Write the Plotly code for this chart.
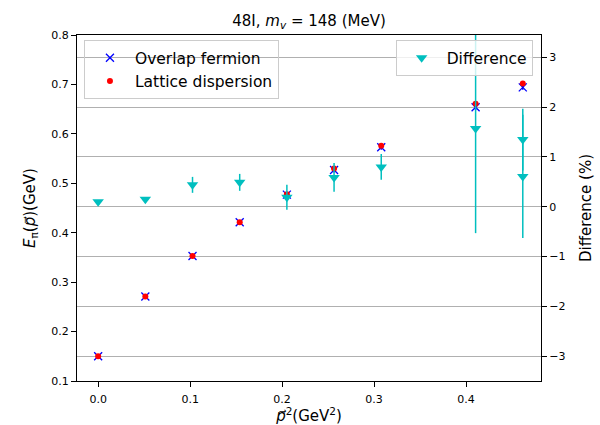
import plotly.graph_objects as go

# ---- data ----
p2 = [0.0, 0.0513, 0.1026, 0.1539, 0.2052, 0.2565, 0.3078, 0.4104, 0.4617]
E_overlap = [0.150, 0.271, 0.353, 0.421, 0.477, 0.527, 0.573, 0.654, 0.694]
E_overlap_err = [0.001, 0.002, 0.002, 0.003, 0.005, 0.005, 0.005, 0.006, 0.005]
E_lattice = [0.150, 0.271, 0.353, 0.421, 0.478, 0.530, 0.576, 0.661, 0.702]
E_lattice_err = [0.001, 0.002, 0.002, 0.002, 0.003, 0.003, 0.004, 0.004, 0.004]

p2_diff = [0.0, 0.0513, 0.1026, 0.1539, 0.2052, 0.2565, 0.3078, 0.4104, 0.4617, 0.4617]
diff = [0.10, 0.15, 0.44, 0.49, 0.19, 0.59, 0.80, 1.57, 1.35, 0.61]
diff_err = [0.02, 0.03, 0.16, 0.17, 0.25, 0.29, 0.26, 2.10, 0.62, 1.24]

title_text = "48I, <i>m</i><sub><i>v</i></sub> = 148 (MeV)"
xlabel = "<i>p\u20d7</i><sup>2</sup>(GeV<sup>2</sup>)"
ylabel = "<i>E</i><sub>\u03c0</sub>(<i>p\u20d7</i>)(GeV)"
y2label = "Difference (%)"

FONT = "DejaVu Sans"
BLUE = "#0000ff"
RED = "#ff0000"
CYAN = "#00bfbf"

fig = go.Figure()

fig.add_trace(go.Scatter(
    x=p2, y=E_overlap, mode="markers", name="Overlap fermion",
    marker=dict(symbol="x-thin", size=8, line=dict(color=BLUE, width=1.3), color=BLUE),
    error_y=dict(type="data", array=E_overlap_err, color=BLUE, thickness=1.5, width=0),
    legend="legend", yaxis="y",
))
fig.add_trace(go.Scatter(
    x=p2, y=E_lattice, mode="markers", name="Lattice dispersion",
    marker=dict(symbol="circle", size=6, color=RED),
    error_y=dict(type="data", array=E_lattice_err, color=RED, thickness=1.5, width=0),
    legend="legend", yaxis="y",
))
fig.add_trace(go.Scatter(
    x=p2_diff, y=diff, mode="markers", name="Difference",
    marker=dict(symbol="triangle-down", size=10, color=CYAN),
    error_y=dict(type="data", array=diff_err, color=CYAN, thickness=1.5, width=0),
    legend="legend2", yaxis="y2",
))

axis_common = dict(
    showline=True, linecolor="black", linewidth=1,
    ticks="outside", ticklen=5, tickwidth=1, tickcolor="black",
    tickfont=dict(family=FONT, size=11, color="black"),
    zeroline=False, automargin=False,
)

fig.update_layout(
    width=600, height=425,
    margin=dict(l=77, r=59, t=35, b=44),
    paper_bgcolor="white", plot_bgcolor="white",
    font=dict(family=FONT, color="black"),
    title=dict(text=title_text, x=0.5, xref="paper", xanchor="center",
               y=1 - 21 / 425, yref="container", yanchor="middle",
               font=dict(family=FONT, size=15, color="black")),
    xaxis=dict(range=[-0.023, 0.4815], dtick=0.1, tick0=0, tickformat=".1f",
               mirror=True, showgrid=False, ticklabelstandoff=3,
               title=dict(text=xlabel, font=dict(family=FONT, size=15), standoff=5),
               **axis_common),
    yaxis=dict(range=[0.1, 0.8], dtick=0.1, tick0=0.1, tickformat=".1f",
               showgrid=False,
               title=dict(text=ylabel, font=dict(family=FONT, size=15), standoff=12),
               **axis_common),
    yaxis2=dict(range=[-3.5, 3.45], dtick=1, tick0=0, overlaying="y", side="right",
                showgrid=True, gridcolor="#b0b0b0", gridwidth=1,
                title=dict(text=y2label, font=dict(family=FONT, size=15), standoff=16),
                **axis_common),
    legend=dict(x=0.015, y=0.985, xanchor="left", yanchor="top", itemwidth=40,
                bgcolor="rgba(0,0,0,0)", bordercolor="#cccccc", borderwidth=1,
                font=dict(family=FONT, size=15.5, color="black")),
    legend2=dict(x=0.982, y=0.985, xanchor="right", yanchor="top", itemwidth=40,
                 bgcolor="rgba(255,255,255,0.8)", bordercolor="#cccccc", borderwidth=1,
                 font=dict(family=FONT, size=15.5, color="black")),
    showlegend=True,
)

fig.write_html("out.html")
